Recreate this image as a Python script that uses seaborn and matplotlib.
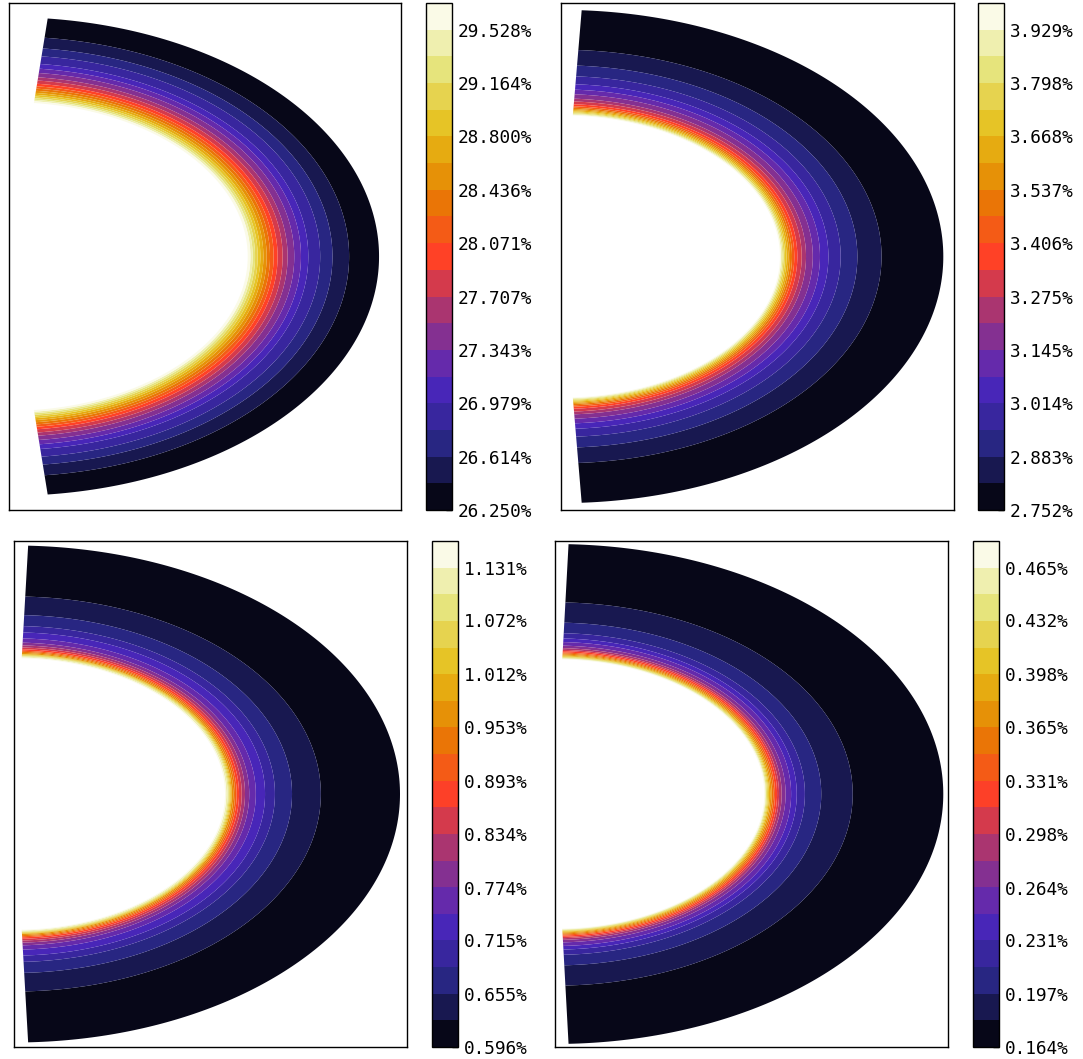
import numpy as np
import matplotlib
matplotlib.use("Agg")
import matplotlib.pyplot as plt
import seaborn as sns

sns.set_style("white")
plt.rcParams['font.family'] = ['DejaVu Sans Mono']

# colorbar ticks (percent)
tl_ticks = [26.250, 26.614, 26.979, 27.343, 27.707, 28.071, 28.436, 28.800, 29.164, 29.528]
tr_ticks = [2.752, 2.883, 3.014, 3.145, 3.275, 3.406, 3.537, 3.668, 3.798, 3.929]
bl_ticks = [0.596, 0.655, 0.715, 0.774, 0.834, 0.893, 0.953, 1.012, 1.072, 1.131]
br_ticks = [0.164, 0.197, 0.231, 0.264, 0.298, 0.331, 0.365, 0.398, 0.432, 0.465]

# radial profiles, inner edge -> outer edge (radius in axis units, value in %)
tl_radius = [0.609, 0.6158, 0.6216, 0.6277, 0.6344, 0.6412, 0.6489, 0.6573, 0.6659, 0.6751,
             0.6852, 0.6980, 0.7107, 0.7277, 0.7448, 0.7634, 0.7939, 0.8252, 0.8677, 0.944]
tl_values = [29.660, 29.528, 29.346, 29.164, 28.982, 28.800, 28.618, 28.436, 28.253, 28.071,
             27.889, 27.707, 27.525, 27.343, 27.161, 26.979, 26.796, 26.614, 26.432, 26.300]

tr_radius = [0.557, 0.5598, 0.5631, 0.5662, 0.5700, 0.5738, 0.5784, 0.5827, 0.5878, 0.5936,
             0.6013, 0.6125, 0.6234, 0.6405, 0.6590, 0.6802, 0.7117, 0.7539, 0.8160, 0.9728]
tr_values = [3.980, 3.929, 3.864, 3.798, 3.733, 3.668, 3.602, 3.537, 3.471, 3.406,
             3.341, 3.275, 3.210, 3.145, 3.079, 3.014, 2.948, 2.883, 2.817, 2.760]

bl_radius = [0.537, 0.5400, 0.5438, 0.5463, 0.5489, 0.5514, 0.5539, 0.5580, 0.5623, 0.5667,
             0.5725, 0.5794, 0.5878, 0.5987, 0.6150, 0.6387, 0.6641, 0.7081, 0.7786, 0.9822]
bl_values = [1.150, 1.131, 1.101, 1.072, 1.042, 1.012, 0.982, 0.953, 0.923, 0.893,
             0.864, 0.834, 0.804, 0.774, 0.745, 0.715, 0.685, 0.655, 0.626, 0.600]

br_radius = [0.5326, 0.5349, 0.5369, 0.5394, 0.5420, 0.5445, 0.5478, 0.5514, 0.5555, 0.5598,
             0.5649, 0.5700, 0.5768, 0.5870, 0.6005, 0.6150, 0.6361, 0.6786, 0.7532, 0.9880]
br_values = [0.478, 0.465, 0.448, 0.432, 0.415, 0.398, 0.381, 0.365, 0.348, 0.331,
             0.315, 0.298, 0.281, 0.264, 0.248, 0.231, 0.214, 0.197, 0.181, 0.166]

# edge angle of each wedge (deg from the pole)
edge_deg = [6.0, 3.1, 2.1, 2.0]

# axes / colorbar boxes in pixels (x0, x1, y0, y1)
W, H = 1083, 1059
ax_px = [(9, 401, 3, 510), (561, 954, 3, 510), (14, 407, 541, 1047), (555, 948, 541, 1047)]
cb_px = [(426, 452, 3, 510), (978, 1004, 3, 510), (432, 458, 541, 1047), (973, 999, 541, 1047)]


def box(p):
    x0, x1, y0, y1 = p
    return [x0 / W, 1 - y1 / H, (x1 - x0) / W, (y1 - y0) / H]


cmap = sns.color_palette("CMRmap", as_cmap=True)
fig = plt.figure(figsize=(W / 100, H / 100), dpi=100)

panels = [(tl_ticks, tl_radius, tl_values), (tr_ticks, tr_radius, tr_values),
          (bl_ticks, bl_radius, bl_values), (br_ticks, br_radius, br_values)]

for i, (ticks, radius, values) in enumerate(panels):
    ax = fig.add_axes(box(ax_px[i]))
    cax = fig.add_axes(box(cb_px[i]))

    theta = np.radians(np.linspace(edge_deg[i], 180 - edge_deg[i], 241))
    R, T = np.meshgrid(radius, theta)
    Z = np.tile(values, (len(theta), 1))
    step = (ticks[-1] - ticks[0]) / 18
    levels = np.linspace(ticks[0], ticks[0] + 19 * step, 20)

    cs = ax.contourf(R * np.sin(T), R * np.cos(T), Z, levels=levels, cmap=cmap,
                     antialiased=True)
    ax.set_xlim(0, 1)
    ax.set_ylim(-1, 1)
    ax.set_xticks([])
    ax.set_yticks([])
    for sp in ax.spines.values():
        sp.set_color("black")
        sp.set_linewidth(1)

    cb = fig.colorbar(cs, cax=cax, ticks=ticks)
    cb.ax.set_yticklabels([f"{t:.3f}%" for t in ticks])
    cb.ax.tick_params(direction="in", length=4, width=1, labelsize=12.8, pad=4,
                      colors="black")
    cb.outline.set_edgecolor("black")
    cb.outline.set_linewidth(1)

fig.savefig("out.png", dpi=100)
